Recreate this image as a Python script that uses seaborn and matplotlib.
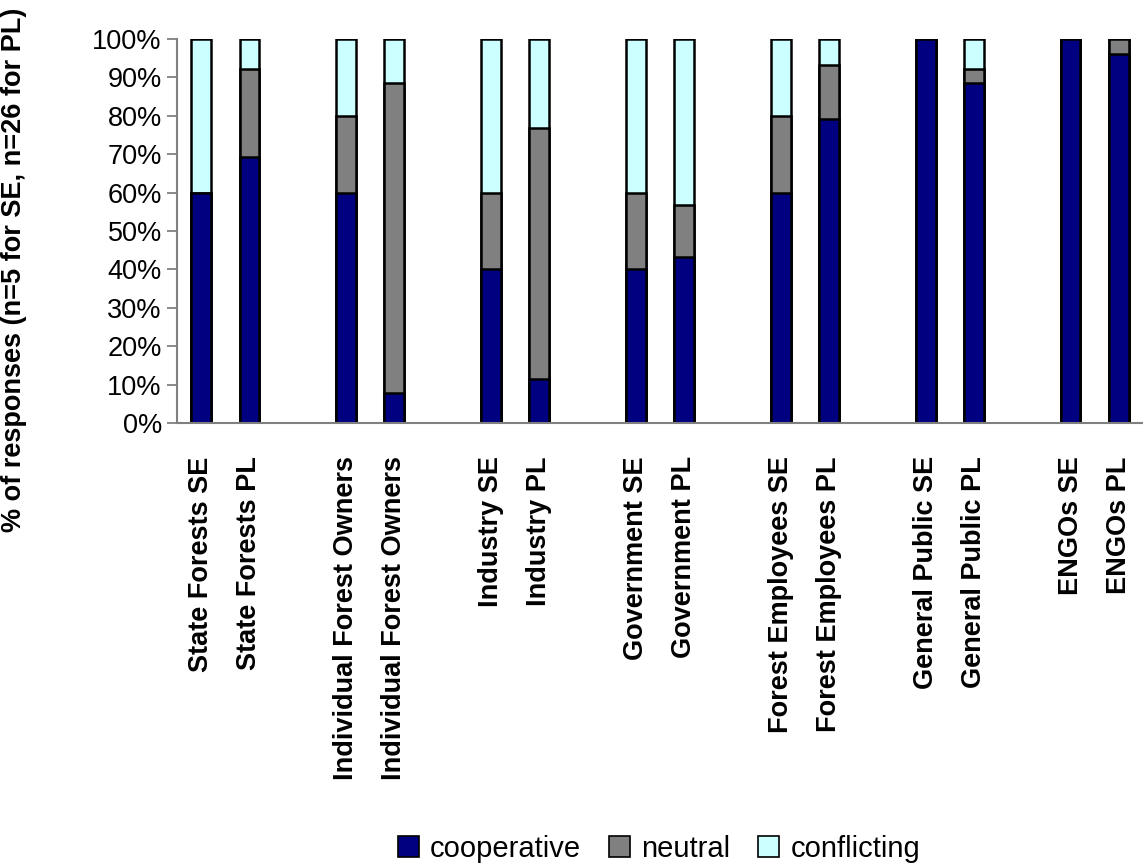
import matplotlib
matplotlib.use("Agg")
import matplotlib.pyplot as plt
from matplotlib.patches import Patch
import numpy as np
import pandas as pd
import seaborn as sns

# Stakeholder groups, each with an SE and a PL bar
labels = [
    "State Forests SE", "State Forests PL",
    "Individual Forest Owners", "Individual Forest Owners",
    "Industry SE", "Industry PL",
    "Government SE", "Government PL",
    "Forest Employees SE", "Forest Employees PL",
    "General Public SE", "General Public PL",
    "ENGOs SE", "ENGOs PL",
]

# Share of responses (%)
cooperative = [60, 69.2, 60, 7.7, 40, 11.5, 40, 43.3, 60, 79.2, 100, 88.5, 100, 96.2]
neutral     = [0, 23.1, 20, 80.8, 20, 65.4, 20, 13.4, 20, 14.1, 0, 3.8, 0, 3.8]
conflicting = [40, 7.7, 20, 11.5, 40, 23.1, 40, 43.3, 20, 6.7, 0, 7.7, 0, 0]

series = ["cooperative", "neutral", "conflicting"]
colors = {"cooperative": "#000080", "neutral": "#808080", "conflicting": "#CCFFFF"}

# Two bars per group, followed by an empty slot
slots = [3 * (i // 2) + (i % 2) for i in range(len(labels))]

df = pd.DataFrame({
    "slot": slots,
    "label": labels,
    "cooperative": cooperative,
    "neutral": neutral,
    "conflicting": conflicting,
})
df["top_coop"] = df["cooperative"]
df["top_neutral"] = df["cooperative"] + df["neutral"]
df["top_conf"] = df["top_neutral"] + df["conflicting"]

sns.set_theme(style="white", rc={
    "text.color": "black",
    "axes.labelcolor": "black",
    "xtick.color": "black",
    "ytick.color": "black",
})
plt.rcParams["font.family"] = ["Liberation Sans", "DejaVu Sans"]

fig = plt.figure(figsize=(11.43, 8.66), dpi=100)
ax = fig.add_axes([0.1549, 0.5115, 0.8451, 0.4434])

# Stack drawn from the tallest layer down
for col, name in [("top_conf", "conflicting"), ("top_neutral", "neutral"), ("top_coop", "cooperative")]:
    sns.barplot(data=df, x="slot", y=col, native_scale=True, width=0.41,
                color=colors[name], saturation=1, edgecolor="black",
                linewidth=1.8, errorbar=None, ax=ax)

ax.set_xlim(-0.5, 19.5)
ax.set_ylim(0, 100)
ax.set_yticks(np.arange(0, 101, 10))
ax.set_yticklabels([f"{v}%" for v in range(0, 101, 10)], fontsize=19.5)

ax.set_xticks(slots)
ax.set_xticklabels(labels, rotation=90, fontsize=19.5, fontweight="bold")
ax.set_xticks(np.arange(-0.5, 20, 1), minor=True)
ax.tick_params(axis="x", which="major", length=0, pad=24, labelcolor="black")
ax.tick_params(axis="x", which="minor", length=7, width=1.3, color="#808080", direction="out")
ax.tick_params(axis="y", which="major", length=7, width=1.3, color="#808080",
               direction="out", pad=4, left=True, labelcolor="black")

for s in ["top", "right"]:
    ax.spines[s].set_visible(False)
for s in ["left", "bottom"]:
    ax.spines[s].set_color("#808080")
    ax.spines[s].set_linewidth(1.5)

ax.set_xlabel("")
ax.set_ylabel("% of responses (n=5 for SE, n=26 for PL)", fontsize=19.5,
              fontweight="bold", color="black")
ax.yaxis.set_label_coords(-0.155, 0.40)

handles = [Patch(facecolor=colors[s], edgecolor="black", linewidth=1.2, label=s) for s in series]
fig.legend(handles=handles, loc="center", bbox_to_anchor=(0.5766, 0.0196), ncol=3,
           frameon=False, fontsize=21, handlelength=0.72, handleheight=0.72,
           handletextpad=0.39, columnspacing=0.95, borderaxespad=0, labelcolor="black")

fig.savefig("out.png", dpi=100)
